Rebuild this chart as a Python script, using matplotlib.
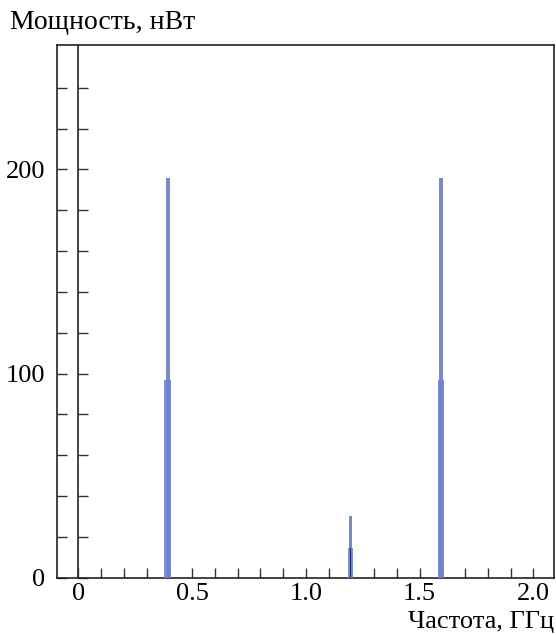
import numpy as np
import matplotlib.pyplot as plt
from matplotlib.ticker import MultipleLocator, FixedLocator, NullFormatter

plt.rcParams['font.family'] = ['Liberation Serif', 'DejaVu Serif']

# спектр мощности: центр пика (ГГц), высота широкой и узкой частей (нВт)
peak_freq = [0.393, 1.197, 1.593]
wide_power = [97, 14.5, 97]
narrow_power = [196, 30, 196]
wide_width = [0.029, 0.024, 0.028]
narrow_width = [0.018, 0.01, 0.018]

x_major = [0, 0.5, 1.0, 1.5, 2.0]
x_labels = ['0', '0.5', '1.0', '1.5', '2.0']
y_major = [0, 100, 200]
y_minor = [20, 40, 60, 80, 120, 140, 160, 180, 220, 240]

fig = plt.figure(figsize=(5.56, 6.35), dpi=100)
ax = fig.add_axes([0.102, 0.0902, 0.894, 0.839])

# узкие высокие пики и широкие основания
ax.bar(peak_freq, narrow_power, width=narrow_width, color='#5a6db8', alpha=0.8, zorder=2)
ax.bar(peak_freq, wide_power, width=wide_width, color='#6f84d2', alpha=0.9, zorder=3)
# тёмная середина у малого пика
ax.bar(peak_freq[1], wide_power[1], width=0.006, color='#1f2f6e', zorder=4)

ax.axvline(0, color='#222222', lw=1.2, zorder=1)

ax.set_xlim(-0.095, 2.09)
ax.set_ylim(0, 261)

ax.xaxis.set_major_locator(FixedLocator(x_major))
ax.set_xticklabels(x_labels)
ax.xaxis.set_minor_locator(MultipleLocator(0.1))
ax.yaxis.set_major_locator(FixedLocator(y_major))
ax.yaxis.set_minor_locator(FixedLocator(y_minor))

ax.tick_params(axis='both', which='both', direction='in', length=7, width=1,
               color='#333333', labelsize=19, top=False, right=False)
ax.tick_params(axis='x', pad=4)
ax.tick_params(axis='y', pad=8)

for s in ax.spines.values():
    s.set_linewidth(1.2)
    s.set_color('#222222')

# дополнительные деления на линии x = 0
sec = ax.secondary_yaxis(0.095 / 2.185)
sec.spines['left'].set_visible(False)
sec.yaxis.set_major_locator(FixedLocator(y_major))
sec.yaxis.set_minor_locator(FixedLocator(y_minor))
sec.yaxis.set_major_formatter(NullFormatter())
sec.tick_params(axis='y', which='both', direction='in', length=7, width=1, color='#333333')

fig.text(0.018, 0.945, 'Мощность, нВт', fontsize=20, ha='left', va='bottom')
fig.text(0.997, 0.011, 'Частота, ГГц', fontsize=19, ha='right', va='baseline')

fig.savefig('out.png', dpi=100)
